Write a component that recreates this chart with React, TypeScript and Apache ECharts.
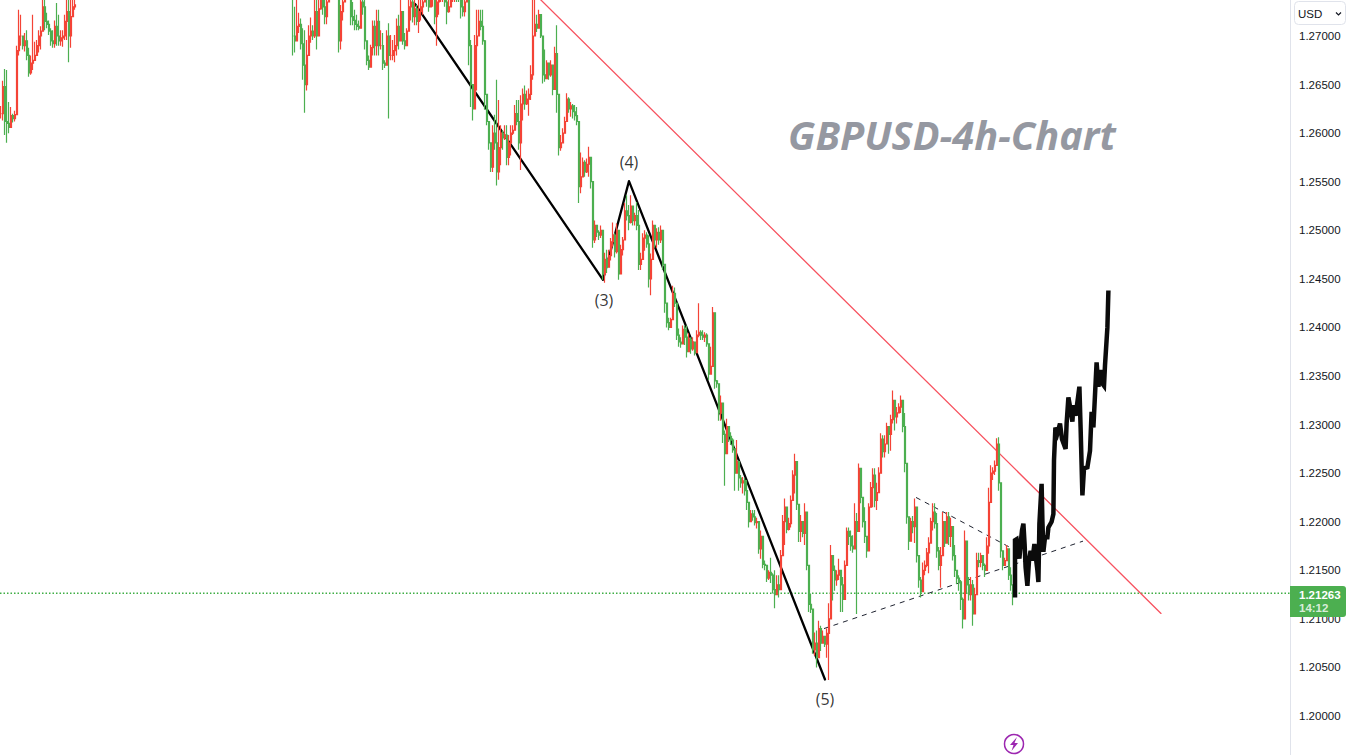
import React, { useEffect, useRef } from "react";
import * as echarts from "echarts";

// Candles as [low, high, close], in units of 0.0001 above 1.2000. Open is the previous close.
const leftCandles = [
[615,628,620],[613,654,648],[598,666,612],[590,665,610],[600,632,606],[611,627,618],[611,620,615],[612,623,619],[638,690,685],[680,727,700],
[690,722,700],[686,700,690],[684,703,695],[675,706,680],[658,688,662],[660,680,672],[665,722,675],[675,694,680],[680,696,690],[683,706,700],
[686,710,705],[712,737,730],[706,737,715],[708,724,712],[701,716,705],[690,708,695],[688,706,692],[688,716,710],[690,734,700],[690,722,695],
[690,706,698],[689,706,700],[696,722,715],[696,737,725],[673,737,700],[688,737,720],[725,737,730],[727,737,732],
];
const topBand = [
[680,737,700],[683,730,695],[703,737,710],[703,724,712],[686,718,692],[655,708,670],[621,706,650],[644,696,680],[680,711,700],[693,719,705],
[696,711,700],[698,737,725],[686,737,700],[716,737,728],[727,745,738],[722,745,730],[712,745,720],[712,740,735],[738,750,745],[740,755,748],
[740,755,748],[740,755,750],[740,755,745],[683,728,695],[686,732,725],[716,745,735],[738,750,745],[738,750,742],[738,750,745],[711,745,720],
[711,735,716],[706,727,712],[706,722,710],[706,716,708],[716,745,735],[722,745,730],[686,737,695],[670,691,675],[665,680,668],[670,691,688],
[680,716,710],[680,716,690],[680,727,715],[680,727,690],[686,706,690],[665,703,672],[667,675,670],[675,706,700],[615,713,680],[675,701,680],
[675,696,685],[673,701,690],[680,718,710],[686,722,695],[706,737,725],[691,708,695],[686,703,690],[691,708,705],[711,737,730],[716,745,735],
[714,745,720],[711,737,728],[711,732,715],[703,737,725],[716,745,730],[722,745,735],[735,750,745],[730,750,740],[725,745,730],[730,750,740],
[730,750,745],[712,740,720],[690,745,735],[722,750,740],[735,752,745],[735,752,745],[730,750,735],[712,745,725],[724,745,730],[735,752,745],
[735,752,745],[735,752,748],[735,752,745],[735,752,740],[718,745,730],[720,745,725],[720,745,735],[735,752,745],[670,745,690],
];
const firstDrop = [
[627,696,650],[613,639,625],[634,701,690],[644,727,700],[711,727,715],[706,727,710],[691,727,695],[624,696,640],[608,634,612],[583,608,590],
[560,583,565],[560,608,600],[583,619,590],[546,655,560],[552,634,585],[567,608,600],[583,603,595],[593,608,598],[567,608,575],[567,598,590],
[577,608,600],[598,608,603],[603,629,620],[608,634,612],[583,634,590],[562,639,630],[613,646,640],[624,649,630],[629,644,635],[618,646,640],
[634,670,660],[655,737,700],[701,737,712],[704,722,708],[709,727,722],[698,716,700],[651,696,660],[653,686,656],[662,675,672],[655,672,660],
[658,675,670],[639,670,645],[668,689,682],[621,711,640],[577,621,585],[582,598,590],[590,605,600],[600,617,612],[617,641,635],[621,637,625],
[617,632,628],[615,630,622],[613,629,618],[608,627,612],[528,598,545],[538,580,555],[555,575,570],[555,572,560],[559,574,568],[555,586,575],
[543,567,550],[482,544,490],
];
const waveFour = [
[487,510,505],[493,503,498],[490,500,495],[492,505,500],[449,476,455],[446,477,470],[456,480,462],[466,480,474],[469,492,488],[483,508,495],
[472,497,478],[476,507,500],[449,466,455],[462,485,480],[474,493,490],[497,528,520],[510,536,515],[500,526,508],[507,536,525],[505,519,510],
[505,518,515],[500,529,505],[459,521,465],[459,477,470],[479,497,492],[479,500,495],[482,498,486],[441,495,450],[433,476,470],[476,510,505],
[482,502,490],[482,502,498],[485,503,490],[487,505,500],[459,487,465],
];
const secondDrop = [
[415,459,425],[400,420,405],[397,410,400],[400,410,408],[415,443,435],[421,441,425],[387,402,392],[380,399,385],[379,390,383],[384,402,398],
[382,402,390],[369,402,375],[376,394,388],[373,390,378],[376,390,385],[371,382,374],[385,397,392],[390,425,395],[387,397,392],[387,397,390],
[385,395,392],[380,394,383],[346,373,352],[353,380,360],[376,421,415],[337,364,345],[338,346,342],[304,325,312],[304,330,322],[281,308,290],
[237,294,270],[284,306,298],[282,294,288],[279,292,284],[271,286,275],[232,273,250],[255,284,262],[232,263,245],[235,248,240],[229,246,242],
[227,245,232],[212,243,220],[194,220,200],[205,212,208],[201,212,205],[196,212,199],[193,204,200],[167,193,172],[162,191,185],[152,163,156],
[150,160,155],[138,155,142],[140,150,148],[137,163,145],[126,147,130],[111,150,125],[129,145,135],[122,145,130],
];
const bounceOne = [
[145,171,165],[174,207,200],[176,224,215],[188,204,192],[191,204,198],[194,227,222],[229,253,248],[229,270,262],[212,253,218],[179,217,190],
[179,207,200],[184,194,188],[176,219,210],[150,181,155],[107,150,115],[106,126,110],[64,91,68],[62,86,75],[50,88,60],[60,98,90],
[67,93,75],[78,88,82],[71,81,74],[60,90,85],[37,116,100],
];
const bounceTwo = [
[109,176,165],[119,163,150],[129,155,140],[134,150,145],[140,162,150],[107,150,135],[107,143,120],[126,160,155],[165,194,190],[176,194,185],
[170,191,175],[168,186,172],[184,219,200],[105,209,190],[229,260,255],[219,250,225],[194,222,200],[178,215,185],[163,184,170],[196,219,215],
[219,241,235],[215,255,248],[215,255,222],[212,240,230],[235,256,250],[265,291,285],[266,289,272],[266,289,280],[286,302,298],[270,297,290],
[273,310,305],[301,335,325],[294,312,308],[301,318,312],[312,322,318],[312,330,325],[292,322,298],[251,312,260],
];
const lastRange = [
[198,251,205],[171,201,180],[184,204,200],[188,206,195],[178,224,215],[158,198,165],[132,158,140],[122,143,128],[143,158,150],[145,160,155],
[153,173,168],[147,184,178],[186,204,200],[191,219,210],[193,219,198],[163,209,170],[150,174,155],[132,174,165],[173,210,200],[174,186,178],
[181,210,205],[176,210,185],[174,204,195],[160,181,165],[143,176,150],[136,147,142],[129,145,138],[109,140,120],[90,122,100],[140,191,180],
[126,152,135],[119,143,125],[119,143,135],[93,140,105],[112,132,125],[132,168,160],[153,168,158],[153,168,165],[150,163,155],[143,157,150],
[150,184,175],[167,235,220],[229,258,250],[243,256,252],[248,263,258],[261,286,280],[232,287,240],[163,229,170],[150,163,155],[155,163,160],
[163,176,172],[140,170,145],[129,153,135],[114,134,126.3],
];

// Drawings as [bar position, value in the same units]
const projection = [
[507,122],[507,181],[507.8,182],[508.5,172],[509.2,162],[510,181],[510.5,191],[511.2,198],[511.8,177],[512.3,153],[513.2,134],[514,160],
[514.8,170],[515.7,160],[516.7,177],[517.5,162],[518.2,150],[518.7,138],[519.2,198],[520.3,239],[520.7,201],[521.2,169],[522,184],[523.2,184],
[523.7,194],[525.3,200],[526.2,208],[526.5,263],[527.2,297],[528.2,291],[529.5,301],[530.5,285],[532.3,275],[532.8,301],[533.7,328],[534.8,315],
[535.7,303],[536.2,320],[537.3,309],[539.2,339],[539.8,297],[540.7,227],[541.5,255],[543.2,256],[544.5,273],[545.3,313],[546.2,297],[547.8,364],
[548.7,339],[549.8,356],[550.8,342],[551.5,340],[552,361],[552.8,387],[553.2,400],[553.7,438],
];
const waveLine = [[207,733],[301,449],[314,550.6],[412,37.6]];
const redTrend = [[269.5,738],[580,105.6]];
const lowerDash = [[411.5,90],[541,180]];
const upperDash = [[457.5,225],[504.5,173.6]];
const waveLabels = [[301.5,428,"(3)"],[314,570,"(4)"],[412,17,"(5)"]];
const tickLabels = [1.2,1.205,1.21,1.215,1.22,1.225,1.23,1.235,1.24,1.245,1.25,1.255,1.26,1.265,1.27];
const lastPrice = 1.21263;
const lastPriceText = "1.21263";
const countdownText = "14:12";
const titleText = "GBPUSD-4h-Chart";
const currencyText = "USD";

const BAR_SLOTS = 645;
const LEFT_START = 0;
const MAIN_START = 146;
const toPrice = (v: number) => +(1.2 + v / 10000).toFixed(5);
const toPoint = (p: number[]) => [p[0], toPrice(p[1])];

function buildCandles() {
  const out: number[][] = [];
  const add = (list: number[][], start: number) => {
    let prev = list[0][2];
    list.forEach((c, i) => {
      out.push([start + i, toPrice(prev), toPrice(c[2]), toPrice(c[0]), toPrice(c[1])]);
      prev = c[2];
    });
  };
  add(leftCandles, LEFT_START);
  add([...topBand, ...firstDrop, ...waveFour, ...secondDrop, ...bounceOne, ...bounceTwo, ...lastRange], MAIN_START);
  return out;
}

const drawLine = (data: number[][], color: string, width: number, type: any, z: number, cap = "round", join = "round") => ({
  type: "line",
  xAxisIndex: 1,
  yAxisIndex: 0,
  data: data.map(toPoint),
  showSymbol: false,
  silent: true,
  z,
  lineStyle: { color, width, type, cap, join },
});

export default function App() {
  const ref = useRef<HTMLDivElement>(null);
  useEffect(() => {
    const chart = echarts.init(ref.current!, null, { renderer: "svg" });
    echarts.graphic.registerShape(
      "bolt",
      echarts.graphic.extendPath("M3 -7 L-4 1 L-0.5 1 L-2.5 7 L4 -1 L0.5 -1 Z", {}) as any
    );
    chart.setOption({
      animation: false,
      backgroundColor: "#ffffff",
      grid: { left: 0, top: 0, width: 1290, height: 755, containLabel: false },
      xAxis: [
        { type: "category", data: Array.from({ length: BAR_SLOTS }, (_, i) => String(i)), show: false, boundaryGap: true },
        { type: "value", min: -0.5, max: BAR_SLOTS - 0.5, show: false, splitLine: { show: false } },
      ],
      yAxis: {
        type: "value",
        position: "right",
        min: 1.195985,
        max: 1.273706,
        splitLine: { show: false },
        axisTick: { show: false },
        axisLine: { show: true, onZero: false, lineStyle: { color: "#e0e3eb", width: 1 } },
        axisLabel: {
          customValues: tickLabels,
          margin: 9,
          color: "#131722",
          fontFamily: "Liberation Sans",
          fontSize: 11.5,
          formatter: (v: number) => v.toFixed(5),
        },
      },
      series: [
        drawLine([[-0.5, (lastPrice - 1.2) * 10000], [BAR_SLOTS - 0.5, (lastPrice - 1.2) * 10000]], "#3fae45", 1.4, [1.5, 2], 1, "butt"),
        drawLine(redTrend, "#f7525f", 1.3, "solid", 2),
        drawLine(lowerDash, "#1f2330", 1, [5, 5], 2, "butt"),
        drawLine(upperDash, "#1f2330", 1, [5, 5], 2, "butt"),
        drawLine(waveLine, "#000000", 2.3, "solid", 2),
        {
          type: "candlestick",
          data: buildCandles(),
          encode: { x: 0, y: [1, 2, 3, 4] },
          barWidth: 1.8,
          z: 3,
          silent: true,
          itemStyle: { color: "#f44336", color0: "#4caf50", borderColor: "#f44336", borderColor0: "#4caf50", borderWidth: 1.2 },
        },
        drawLine(projection, "#0b0b0b", 4.5, "solid", 4, "butt", "miter"),
        {
          type: "scatter",
          xAxisIndex: 1,
          yAxisIndex: 0,
          silent: true,
          symbolSize: 0,
          z: 5,
          data: waveLabels.map((l) => ({ value: [l[0], toPrice(l[1] as number)], name: l[2] })),
          label: {
            show: true,
            position: "inside",
            formatter: "{b}",
            color: "#000000",
            fontFamily: "Open Sans",
            fontSize: 16,
          },
        },
      ],
      graphic: [
        { type: "text", z: 50, style: { text: titleText, x: 788, y: 135, font: "italic bold 39.7px 'Open Sans'", fill: "#9598a1", textVerticalAlign: "middle" } },
        { type: "rect", z: 50, shape: { x: 1294.5, y: 1.5, width: 51, height: 23, r: 4 }, style: { fill: "#ffffff", stroke: "#e0e3eb", lineWidth: 1 } },
        { type: "text", z: 51, style: { text: currencyText, x: 1298, y: 14, font: "11.5px 'Liberation Sans'", fill: "#131722", textVerticalAlign: "middle" } },
        { type: "polyline", z: 51, shape: { points: [[1336, 12.5], [1338.5, 15], [1341, 12.5]] }, style: { fill: "none", stroke: "#131722", lineWidth: 1.2 } },
        { type: "rect", z: 50, shape: { x: 1290, y: 586, width: 56, height: 31, r: [0, 3, 3, 0] }, style: { fill: "#4caf50" } },
        { type: "text", z: 51, style: { text: lastPriceText, x: 1299, y: 595, font: "bold 11.5px 'Liberation Sans'", fill: "#ffffff", textVerticalAlign: "middle" } },
        { type: "text", z: 51, style: { text: countdownText, x: 1299, y: 608, font: "bold 11.5px 'Liberation Sans'", fill: "rgba(255,255,255,0.8)", textVerticalAlign: "middle" } },
        { type: "circle", z: 50, shape: { cx: 1014, cy: 744, r: 9.5 }, style: { fill: "#ffffff", stroke: "#9c27b0", lineWidth: 1.5 } },
        { type: "bolt", z: 51, x: 1014, y: 744, style: { fill: "#9c27b0" } },
      ],
    });
    return () => chart.dispose();
  }, []);
  return <div ref={ref} style={{ position: "absolute", left: 0, top: 0, width: 1351, height: 755 }} />;
}
